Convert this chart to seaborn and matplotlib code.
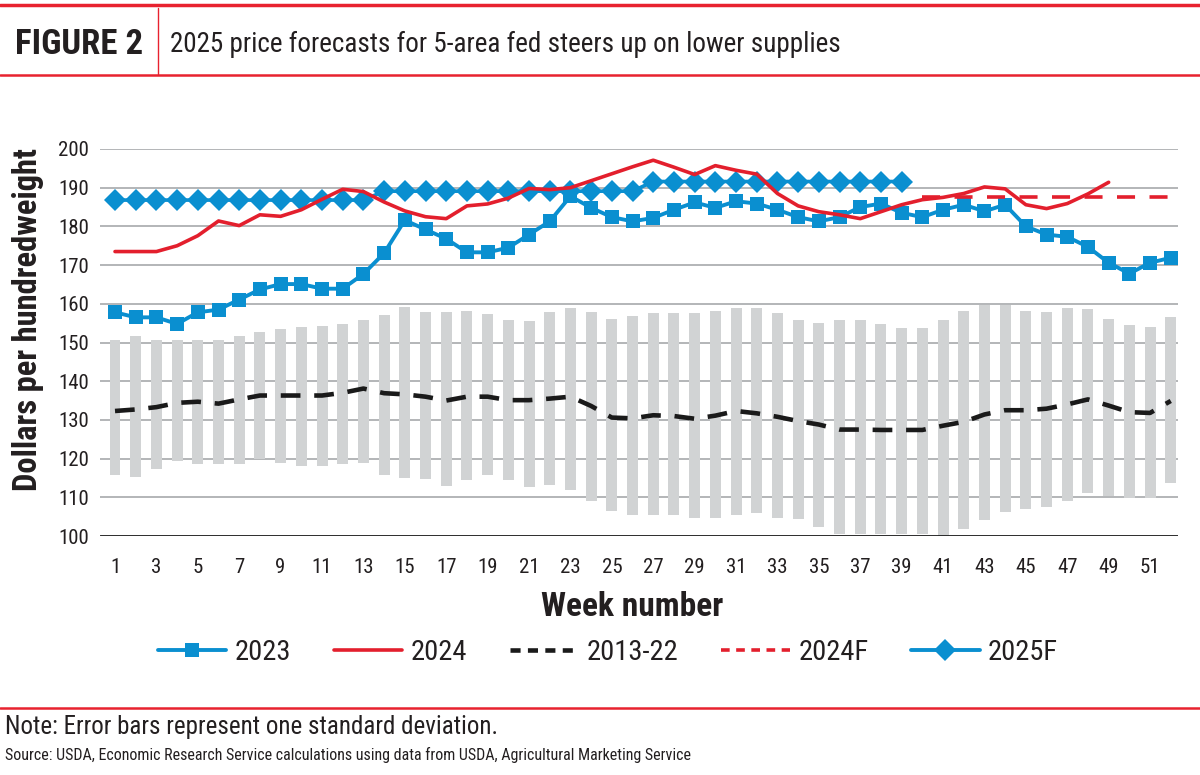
import numpy as np
import pandas as pd
import matplotlib
matplotlib.use("Agg")
import matplotlib.pyplot as plt
import seaborn as sns
from matplotlib import font_manager
from matplotlib.lines import Line2D

# ---------------- data ----------------
weeks = np.arange(1, 53)

avg_2013_22 = [132.3, 132.7, 133.3, 134.4, 134.7, 134.2, 135.3, 136.3, 136.3, 136.3,
               136.3, 137.0, 138.1, 136.9, 136.6, 136.0, 135.0, 136.0, 136.0, 135.1,
               135.1, 135.5, 136.0, 133.6, 130.6, 130.4, 131.2, 131.0, 130.3, 131.1,
               132.3, 131.7, 130.8, 129.7, 128.8, 127.5, 127.5, 127.4, 127.4, 127.4,
               128.5, 129.5, 131.4, 132.5, 132.5, 132.9, 134.0, 135.3, 133.7, 132.0,
               131.8, 134.9]

sd_upper = [150.6, 151.6, 150.6, 150.6, 150.6, 150.6, 151.6, 152.8, 153.4, 153.9,
            154.3, 154.8, 155.9, 157.1, 159.3, 157.8, 157.8, 158.1, 157.4, 155.9,
            155.5, 157.8, 158.8, 157.8, 156.1, 156.8, 157.5, 157.5, 157.5, 158.1,
            159.0, 158.8, 157.7, 155.7, 155.1, 155.7, 155.9, 154.8, 153.8, 153.8,
            155.9, 158.1, 159.6, 159.6, 158.1, 157.8, 159.0, 158.7, 156.1, 154.6,
            154.0, 156.6]

sd_lower = [115.7, 115.2, 117.3, 119.4, 118.5, 118.5, 118.5, 120.0, 118.9, 118.1,
            118.1, 118.5, 118.9, 115.7, 115.1, 114.8, 112.9, 114.5, 115.7, 114.5,
            112.7, 113.2, 112.0, 109.0, 106.5, 105.3, 105.3, 105.3, 104.7, 104.7,
            105.5, 106.0, 104.7, 104.3, 102.2, 100.4, 100.4, 100.4, 100.4, 100.4,
            100.0, 101.7, 104.1, 106.2, 106.9, 107.6, 109.0, 111.0, 110.3, 109.9,
            109.9, 113.8]

price_2023 = [157.8, 156.5, 156.5, 154.8, 157.8, 158.5, 161.1, 163.7, 165.1, 165.1,
              163.9, 163.9, 167.7, 173.1, 181.6, 179.2, 176.8, 173.3, 173.3, 174.5,
              177.9, 181.3, 187.8, 184.8, 182.4, 181.3, 182.2, 184.3, 186.2, 184.8,
              186.5, 185.9, 184.3, 182.4, 181.3, 182.4, 185.0, 185.9, 183.5, 182.4,
              184.3, 185.6, 183.9, 185.6, 180.0, 177.9, 177.3, 174.7, 170.6, 167.8,
              170.6, 171.9]

weeks_2024 = np.arange(1, 50)
price_2024 = [173.5, 173.5, 173.5, 175.0, 177.6, 181.4, 180.2, 183.0, 182.6, 184.3,
              187.0, 189.6, 189.0, 186.3, 184.0, 182.5, 182.0, 185.3, 185.8, 187.3,
              189.8, 189.5, 190.0, 191.8, 193.6, 195.4, 197.1, 195.3, 193.4, 195.7,
              194.5, 193.5, 188.5, 185.3, 183.8, 183.0, 182.0, 183.8, 185.6, 186.9,
              187.5, 188.5, 190.2, 189.7, 185.6, 184.6, 185.9, 188.4, 191.4]

weeks_2024f = np.arange(40, 53)
forecast_2024f = [187.6, 187.6, 187.6, 187.6, 187.6, 187.6, 187.6, 187.6, 187.6, 187.6,
                  187.6, 187.6, 187.6]

weeks_2025f = np.arange(1, 40)
forecast_2025f = [186.8, 186.8, 186.8, 186.8, 186.8, 186.8, 186.8, 186.8, 186.8, 186.8,
                  186.8, 186.8, 186.8,
                  189.1, 189.1, 189.1, 189.1, 189.1, 189.1, 189.1, 189.1, 189.1, 189.1,
                  189.1, 189.1, 189.1,
                  191.6, 191.6, 191.6, 191.6, 191.6, 191.6, 191.6, 191.6, 191.6, 191.6,
                  191.6, 191.6, 191.6]

x_tick_weeks = [1, 3, 5, 7, 9, 11, 13, 15, 17, 19, 21, 23, 25, 27, 29, 31, 33, 35,
                37, 39, 41, 43, 45, 47, 49, 51]
y_ticks = [100, 110, 120, 130, 140, 150, 160, 170, 180, 190, 200]

legend_labels = ["2023", "2024", "2013-22", "2024F", "2025F"]
title_tag = "FIGURE 2"
title_text = "2025 price forecasts for 5-area fed steers up on lower supplies"
y_label = "Dollars per hundredweight"
x_label = "Week number"
note_text = "Note: Error bars represent one standard deviation."
source_text = ("Source: USDA, Economic Research Service calculations using data from USDA, "
               "Agricultural Marketing Service")

# ---------------- style ----------------
BLUE = "#0A8FD0"
RED = "#E31F2D"
GRAY_BAR = "#D1D3D4"
GRID = "#A7A9AC"
HEADER_RED = "#E8222F"

sns.set_theme(style="white")
avail = {f.name for f in font_manager.fontManager.ttflist}
cond = None
for name in ["Roboto Condensed", "Liberation Sans Narrow", "Open Sans Condensed",
             "Noto Sans Condensed", "DejaVu Sans Condensed"]:
    if name in avail:
        cond = name
        break
base_font = cond if cond else "Liberation Sans"
plt.rcParams["font.family"] = [base_font, "Liberation Sans", "DejaVu Sans"]
TXT = "#231F20"

fig = plt.figure(figsize=(12, 7.75), dpi=100)
W, H = 1200, 775

def fx(px):
    return px / W

def fy(py):
    return 1 - py / H

ax = fig.add_axes([fx(100), fy(536), fx(1178) - fx(100), fy(149) - fy(536)])

# error bars (mean +/- sd) as range bars
lower = np.array(sd_lower)
upper = np.array(sd_upper)
ax.bar(weeks, upper - lower, bottom=lower, width=0.53, color=GRAY_BAR,
       linewidth=0, zorder=2)

df_avg = pd.DataFrame({"week": weeks, "price": avg_2013_22})
sns.lineplot(data=df_avg, x="week", y="price", ax=ax, color="#1A1A1A",
             linewidth=3.3, linestyle=(0, (4.3, 3.0)), zorder=3)

df_25 = pd.DataFrame({"week": weeks_2025f, "price": forecast_2025f})
sns.lineplot(data=df_25, x="week", y="price", ax=ax, color=BLUE, linewidth=2.6,
             marker="D", markersize=11, markeredgewidth=0, zorder=4)

df_23 = pd.DataFrame({"week": weeks, "price": price_2023})
sns.lineplot(data=df_23, x="week", y="price", ax=ax, color=BLUE, linewidth=2.8,
             marker="s", markersize=9.5, markeredgewidth=0, zorder=5)

df_24 = pd.DataFrame({"week": weeks_2024, "price": price_2024})
sns.lineplot(data=df_24, x="week", y="price", ax=ax, color=RED, linewidth=2.6,
             zorder=6)

df_24f = pd.DataFrame({"week": weeks_2024f, "price": forecast_2024f})
sns.lineplot(data=df_24f, x="week", y="price", ax=ax, color=RED, linewidth=2.6,
             linestyle=(0, (5.0, 4.0)), zorder=6)

ax.set_xlim(0.275, 52.35)
ax.set_ylim(100, 200)
ax.set_yticks(y_ticks)
ax.set_xticks(x_tick_weeks)
ax.set_xticklabels([str(w) for w in x_tick_weeks])
ax.tick_params(axis="both", length=0, labelsize=15, colors=TXT)
ax.tick_params(axis="x", pad=16)
ax.tick_params(axis="y", pad=8)
for y in y_ticks[1:]:
    ax.axhline(y, color=GRID, linewidth=1.2, zorder=1)
ax.axhline(100, color="#1A1A1A", linewidth=2.0, zorder=7)
for s in ax.spines.values():
    s.set_visible(False)
ax.set_xlabel("")
ax.set_ylabel("")
ax.grid(False)

fig.text(fx(28), fy(320), y_label, rotation=90, ha="center", va="center",
         fontsize=23.5, fontweight="bold", color=TXT)
fig.text(fx(632), fy(607), x_label, ha="center", va="center",
         fontsize=24, fontweight="bold", color=TXT)

handles = [
    Line2D([], [], color=BLUE, lw=2.8, marker="s", markersize=9.5, markeredgewidth=0),
    Line2D([], [], color=RED, lw=2.6),
    Line2D([], [], color="#1A1A1A", lw=3.3, linestyle=(0, (2.2, 1.6))),
    Line2D([], [], color=RED, lw=2.6, linestyle=(0, (2.4, 1.8))),
    Line2D([], [], color=BLUE, lw=2.8, marker="D", markersize=11, markeredgewidth=0),
]
fig.legend(handles, legend_labels, loc="center", bbox_to_anchor=(fx(608), fy(652)),
           ncol=5, frameon=False, fontsize=20.5, handlelength=2.4, handletextpad=0.3,
           columnspacing=1.5, labelcolor=TXT)

# header and footer decorations
fig.add_artist(Line2D([0, 1], [fy(5), fy(5)], color=HEADER_RED, lw=2.5,
                      transform=fig.transFigure))
fig.add_artist(Line2D([0, 1], [fy(75), fy(75)], color=HEADER_RED, lw=1.8,
                      transform=fig.transFigure))
fig.add_artist(Line2D([fx(158), fx(158)], [fy(8), fy(74)], color=HEADER_RED, lw=1.0,
                      transform=fig.transFigure))
fig.add_artist(Line2D([0, 1], [fy(708), fy(708)], color=HEADER_RED, lw=1.8,
                      transform=fig.transFigure))

fig.text(fx(15), fy(44), title_tag, ha="left", va="center", fontsize=25,
         fontweight="heavy", color=TXT)
fig.text(fx(170), fy(44), title_text, ha="left", va="center", fontsize=19.5,
         color=TXT)
fig.text(fx(5), fy(727), note_text, ha="left", va="center", fontsize=18,
         color=TXT)
fig.text(fx(5), fy(755), source_text, ha="left", va="center", fontsize=11.5,
         color=TXT)

fig.savefig("out.png", dpi=100)
